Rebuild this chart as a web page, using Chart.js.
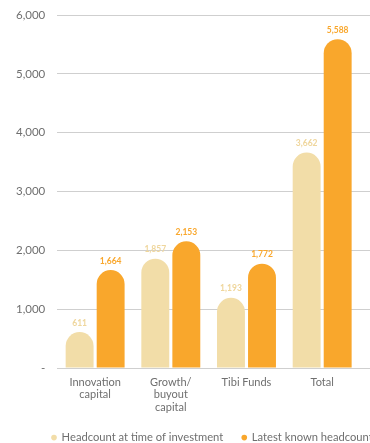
<!DOCTYPE html>
<html>
<head>
<meta charset="utf-8">
<script src="https://cdn.jsdelivr.net/npm/chart.js@4"></script>
<style>
  html, body { margin: 0; padding: 0; background: #fff; }
  #wrap { width: 370px; height: 443px; position: relative; }
</style>
</head>
<body>
<div id="wrap"><canvas id="chart"></canvas></div>
<script>
const categories = [['Innovation', 'capital'], ['Growth/', 'buyout', 'capital'], ['Tibi Funds'], ['Total']];
const seriesNames = ['Headcount at time of investment', 'Latest known headcount'];
const atInvestment = [611, 1857, 1193, 3662];
const latestKnown = [1664, 2153, 1772, 5588];
const yTicks = [0, 1000, 2000, 3000, 4000, 5000, 6000];

const LIGHT = '#F2DDA8';
const ORANGE = '#F9A72C';
const GREY = '#6f6f6f';
const FONT = 'Lato, "Open Sans", sans-serif';

// value labels above each bar, same colour as the bar
const valueLabels = {
  id: 'valueLabels',
  afterDatasetsDraw(chart) {
    const ctx = chart.ctx;
    ctx.save();
    ctx.font = 'bold 8.5px ' + FONT;
    ctx.textAlign = 'center';
    ctx.textBaseline = 'bottom';
    chart.data.datasets.forEach((ds, i) => {
      const meta = chart.getDatasetMeta(i);
      ctx.fillStyle = i === 0 ? '#EFD69C' : ds.backgroundColor;
      meta.data.forEach((bar, j) => {
        ctx.fillText(ds.data[j].toLocaleString('en-US'), bar.x, bar.y - 5);
      });
    });
    ctx.restore();
  }
};

// short legend pushed right, and gridlines running past the last category
const layoutTweak = {
  id: 'layoutTweak',
  beforeInit(chart) {
    const fit = chart.legend.fit;
    chart.legend.fit = function () {
      fit.call(this);
      this.height = 30;
    };
  },
  afterLayout(chart) {
    chart.legend.left += 29;
    chart.legend.right += 200;
    const x = chart.scales.x;
    x.right -= 10;
    x.width -= 10;
    x.configure();
  }
};

new Chart(document.getElementById('chart'), {
  type: 'bar',
  data: {
    labels: categories,
    datasets: [
      { label: seriesNames[0], data: atInvestment, backgroundColor: LIGHT },
      { label: seriesNames[1], data: latestKnown, backgroundColor: ORANGE }
    ]
  },
  options: {
    responsive: true,
    maintainAspectRatio: false,
    animation: false,
    layout: { padding: { top: 0, right: 0, left: 4, bottom: 0 } },
    datasets: {
      bar: {
        categoryPercentage: 0.82,
        barPercentage: 0.9,
        borderRadius: { topLeft: 14, topRight: 14 },
        borderSkipped: 'bottom'
      }
    },
    scales: {
      x: {
        grid: { display: false, drawTicks: false, tickLength: 0 },
        border: { display: false },
        ticks: { color: GREY, font: { family: FONT, size: 11, lineHeight: 1.14 }, maxRotation: 0, padding: 8 },
        afterFit: axis => { axis.height = 45; axis.paddingLeft = 0; axis.paddingRight = 0; }
      },
      y: {
        min: 0,
        max: 6000,
        afterBuildTicks: axis => { axis.ticks = yTicks.map(v => ({ value: v })); },
        afterFit: axis => { axis.paddingTop = 15; axis.paddingBottom = 0; },
        grid: { color: '#cfcfcf', lineWidth: 1, drawTicks: false },
        border: { display: false },
        ticks: {
          color: GREY,
          padding: 12,
          font: { family: FONT, size: 11.5 },
          callback: v => v === 0 ? '-' : v.toLocaleString('en-US')
        }
      }
    },
    plugins: {
      legend: {
        position: 'bottom',
        align: 'start',
        labels: {
          usePointStyle: true,
          pointStyle: 'circle',
          boxWidth: 4,
          boxHeight: 4,
          padding: 19,
          color: GREY,
          font: { family: FONT, size: 11.2 }
        }
      },
      tooltip: { enabled: false }
    }
  },
  plugins: [valueLabels, layoutTweak]
});
</script>
</body>
</html>
